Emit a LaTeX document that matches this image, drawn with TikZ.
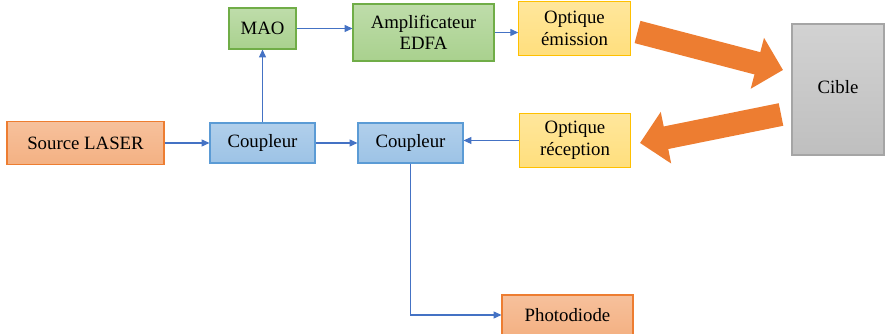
\documentclass[tikz,border=0pt]{standalone}
\usepackage{fontspec}
\setmainfont{Liberation Serif}
\usepackage{tikz}
\usetikzlibrary{arrows.meta,positioning}

\definecolor{lasfill}{HTML}{F4B183}
\definecolor{lasedge}{HTML}{ED7D31}
\definecolor{cplfill}{HTML}{9DC3E6}
\definecolor{cpledge}{HTML}{5B9BD5}
\definecolor{grnfill}{HTML}{A9D18E}
\definecolor{grnedge}{HTML}{70AD47}
\definecolor{optfill}{HTML}{FFD966}
\definecolor{optedge}{HTML}{FFC000}
\definecolor{cibfill}{HTML}{BFBFBF}
\definecolor{cibedge}{HTML}{A5A5A5}
\definecolor{wire}{HTML}{4472C4}

\begin{document}
\begin{tikzpicture}[
  box/.style={draw, line width=0.6pt, font=\fontsize{10.7}{12.4}\selectfont, align=center, inner sep=0pt},
  laser/.style={box, draw=lasedge, top color=lasfill!80!white, bottom color=lasfill},
  coupl/.style={box, draw=cpledge, top color=cplfill!80!white, bottom color=cplfill, minimum width=2.10cm, minimum height=0.80cm},
  modu/.style={box, draw=grnedge, top color=grnfill!75!white, bottom color=grnfill},
  optq/.style={box, draw=optedge, top color=optfill!65!white, bottom color=optfill!85!white, minimum width=2.23cm, minimum height=1.08cm},
  cib/.style={box, draw=cibedge, top color=cibfill!70!white, bottom color=cibfill},
  arr/.style={-{Triangle[length=4.5pt,width=4pt]}, draw=wire, line width=0.6pt},
  beam/.style={-{Triangle[length=0.53cm,width=1.02cm]}, draw=lasedge, line width=0.46cm}
]
\useasboundingbox (0,0) rectangle (17.7,6.68);

% Emission chain
\node[laser, minimum width=3.14cm, minimum height=0.86cm] (src) at (1.71, 3.82) {Source LASER};
\node[coupl] (cpl1) at (5.25, 3.82) {Coupleur};
\node[coupl] (cpl2) at (8.21, 3.82) {Coupleur};
\node[modu, minimum width=1.34cm, minimum height=0.82cm] (mao) at (5.25, 6.11) {MAO};
\node[modu, minimum width=2.82cm, minimum height=1.14cm] (edfa) at (8.47, 6.03) {Amplificateur\\EDFA};
\node[optq] (optem) at (11.49, 6.11) {Optique\\émission};

% Reception chain
\node[optq] (optrec) at (11.50, 3.87) {Optique\\réception};
\node[laser, minimum width=2.62cm, minimum height=0.80cm] (photo) at (11.35, 0.38) {Photodiode};

% Target
\node[cib, minimum width=1.84cm, minimum height=2.62cm] (cible) at (16.76, 4.89) {\raisebox{0.1cm}{Cible}};

% Fibre links
\draw[arr] (src) -- (cpl1);
\draw[arr] (cpl1) -- (cpl2);
\draw[arr] (cpl1) -- (mao);
\draw[arr] (mao.east) -- (mao.east -| edfa.west);
\draw[arr] (edfa) -- (edfa -| optem.west);
\draw[arr] (optrec.west) -- (optrec.west -| cpl2.east);
\draw[arr] (cpl2.south) |- (photo.west);

% Free-space beams
\coordinate (tx0) at (12.75, 6.04);
\coordinate (tx1) at (15.66, 5.28);
\coordinate (rx0) at (15.62, 4.39);
\coordinate (rx1) at (12.80, 3.82);
\draw[beam] (tx0) -- (tx1);
\draw[beam] (rx0) -- (rx1);
\end{tikzpicture}
\end{document}
